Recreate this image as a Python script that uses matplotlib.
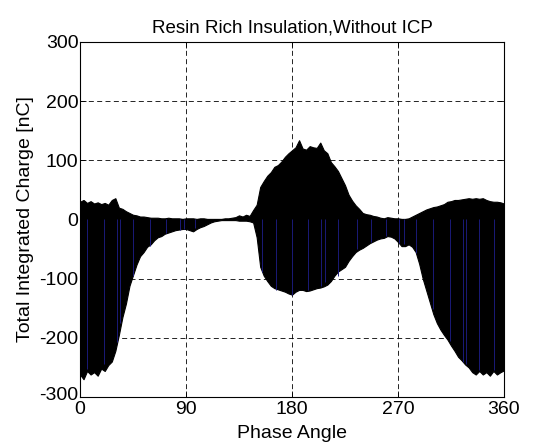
import matplotlib
matplotlib.use("Agg")
import matplotlib.pyplot as plt
import matplotlib.transforms as mtransforms
import numpy as np

plt.rcParams['font.family'] = ['Liberation Sans', 'DejaVu Sans']
plt.rcParams['axes.unicode_minus'] = False

# Phase angle samples (degrees), every 3 degrees
phase = list(range(0, 361, 3))

# Upper envelope of the charge trace (nC)
upper = [30, 33, 28, 31, 27, 29, 26, 28, 25, 33, 36, 20, 18, 14, 11, 8, 7, 5, 5, 4,
         3, 3, 3, 2, 2, 3, 2, 2, 2, 1, 2, 2, 2, 1, 2, 2, 1, 1, 1, 1,
         1, 2, 2, 3, 4, 7, 5, 8, 6, 16, 25, 55, 65, 74, 80, 89, 92, 98, 106, 112,
         117, 122, 134, 120, 118, 124, 122, 121, 130, 117, 112, 97, 90, 82, 70, 58, 42, 32, 24, 18,
         11, 9, 8, 6, 5, 3, 2, 4, 3, 2, 2, 1, 1, 2, 5, 8, 11, 14, 17, 19,
         21, 22, 24, 26, 30, 31, 33, 33, 34, 35, 36, 35, 36, 35, 36, 33, 31, 30, 30, 29,
         27]

# Lower envelope of the charge trace (nC)
lower = [-262, -270, -256, -262, -258, -264, -252, -256, -246, -240, -222, -195, -165, -142, -112, -94, -76, -62, -55, -46,
         -42, -35, -30, -28, -24, -22, -20, -18, -17, -16, -16, -18, -20, -16, -13, -11, -8, -5, -3, -2,
         -1, -1, -1, -1, -1, -2, -2, -2, -3, -5, -30, -80, -95, -104, -112, -116, -118, -120, -122, -125,
         -127, -122, -119, -119, -121, -120, -118, -116, -115, -113, -110, -104, -95, -88, -84, -80, -70, -62, -55, -51,
         -48, -44, -40, -37, -34, -32, -31, -28, -29, -32, -38, -45, -45, -42, -46, -55, -75, -100, -120, -140,
         -160, -175, -186, -195, -203, -213, -222, -232, -238, -245, -250, -258, -262, -256, -262, -258, -264, -256, -262, -258,
         -255]

# Blue pulses visible through the trace
blue_phase = [6.1, 20.2, 31.3, 34.1, 45.1, 59.6, 73.4, 84.5, 88.1, 98.0,
              154.7, 166.3, 180.0, 193.7, 204.7, 208.0, 219.0, 235.0, 246.8, 260.2,
              271.2, 274.8, 285.5, 299.5, 313.8, 324.8, 327.6, 338.8, 351.8]
blue_value = [-252, -245, -207, -175, -95, -45, -22, -18, -16, -14,
              -88, -120, -127, -120, -112, -105, -95, -50, -38, -28,
              -40, -42, -56, -152, -205, -240, -245, -255, -255]

xticks = [0, 90, 180, 270, 360]
yticks = [-300, -200, -100, 0, 100, 200, 300]

fig = plt.figure(figsize=(5.34, 4.44), dpi=100)
ax = fig.add_axes([80/534, 1-397/444, (504-80)/534, (397-42)/444])

ax.fill_between(phase, lower, upper, color='black', linewidth=0.8, edgecolor='black', zorder=2)
ax.vlines(blue_phase, 0, blue_value, color='#1a1a78', linewidth=0.7, zorder=3)

ax.set_xlim(0, 360)
ax.set_ylim(-300, 300)
ax.set_xticks(xticks)
ax.set_yticks(yticks)
ax.tick_params(direction='in', top=True, right=True, length=4, width=0.6, labelsize=14)
ax.tick_params(axis='x', pad=3)
ax.tick_params(axis='y', pad=1)
ax.grid(True, color='black', linestyle=(0, (6, 4)), linewidth=0.6, zorder=1)
ax.set_axisbelow(True)
for s in ax.spines.values():
    s.set_linewidth(0.8)

# nudge the bottom y tick label up slightly so it does not collide with the "0" x label
lbl = ax.get_yticklabels()[0]
lbl.set_transform(lbl.get_transform() + mtransforms.ScaledTranslation(0, 3/100, fig.dpi_scale_trans))

ax.set_title('Resin Rich Insulation,Without ICP', fontsize=13.5, pad=7)
ax.set_xlabel('Phase Angle', fontsize=14, labelpad=5)
ax.set_ylabel('Total Integrated Charge [nC]', fontsize=14, labelpad=4)

fig.savefig('out.png', dpi=100)
